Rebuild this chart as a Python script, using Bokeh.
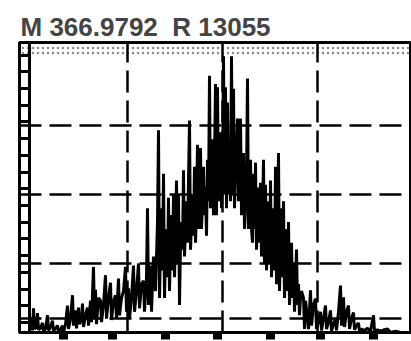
from bokeh.plotting import figure
from bokeh.models import Range1d, FixedTicker, Span, BoxAnnotation, CustomJSTickFormatter
from bokeh.embed import file_html
from bokeh.resources import INLINE
import numpy as np

# ---- data (channel, intensity) ----
channel = [30, 31, 32, 33, 34, 36, 37, 38, 40, 42, 43, 45, 47, 48, 50, 52, 53, 55, 57, 58,
           60, 62, 63, 65, 67, 68, 70, 72, 73, 75, 76, 78, 79, 81, 82, 83, 85, 87, 88, 90,
           91, 93, 94, 95, 96, 98, 100, 101, 103, 105, 106, 108, 110, 111, 113, 115, 116, 118, 119, 121,
           123, 125, 126, 128, 129, 131, 133, 134, 136, 138, 139, 141, 143, 144, 146, 147, 148, 150, 151, 153,
           155, 157, 158, 159, 160, 161, 162, 163, 164, 165, 166, 167, 168, 169, 170, 171, 172, 173, 174, 175,
           176, 177, 178, 179, 180, 181, 182, 183, 184, 185, 186, 187, 188, 189, 190, 191, 192, 193, 194, 195,
           196, 197, 198, 199, 200, 201, 202, 203, 204, 205, 206, 207, 208, 209, 210, 211, 212, 213, 214, 215,
           216, 217, 218, 219, 220, 221, 222, 223, 224, 225, 226, 227, 228, 229, 230, 231, 232, 233, 234, 235,
           236, 237, 238, 239, 240, 241, 242, 243, 244, 245, 246, 247, 248, 249, 250, 251, 252, 253, 254, 255,
           256, 257, 258, 259, 260, 261, 262, 263, 264, 265, 266, 267, 268, 269, 270, 271, 272, 273, 274, 275,
           276, 277, 278, 279, 280, 281, 282, 283, 284, 285, 286, 287, 288, 289, 290, 291, 292, 293, 294, 295,
           296, 297, 298, 299, 300, 301, 303, 304, 305,
           307, 308, 310, 311, 313, 315, 316, 318, 320, 321, 323, 325, 326, 328, 330, 331, 333, 335, 336, 338,
           340, 341, 343, 344, 346, 348, 349, 351, 353, 354, 356, 358, 359, 361, 364, 367, 370, 373, 374, 377,
           380, 384, 387, 390, 395, 400, 411]
intensity = [0.05, 0.20, 0.03, 0.35, 0.05, 0.08, 0.28, 0.04, 0.06, 0.14, 0.02, 0.05, 0.25, 0.03, 0.08, 0.17, 0.02, 0.06, 0.10, 0.01,
             0.04, 0.10, 0.00, 0.12, 0.39, 0.05, 0.20, 0.54, 0.10, 0.32, 0.06, 0.36, 0.12, 0.20, 0.42, 0.08, 0.25, 0.36, 0.10, 0.46,
             0.15, 0.95, 0.20, 0.62, 0.12, 0.50, 0.46, 0.15, 0.40, 0.83, 0.20, 0.50, 0.72, 0.18, 0.45, 0.54, 0.20, 0.78, 0.25, 0.50,
             0.60, 0.95, 0.30, 0.64, 0.20, 0.50, 0.97, 0.30, 0.60, 1.00, 0.35, 0.70, 0.75, 0.30, 0.80, 1.80, 0.40, 0.97, 0.30, 1.10,
             0.60, 1.60, 2.93, 0.50, 1.20, 1.80, 0.90, 2.30, 0.50, 1.10, 1.50, 0.80, 1.95, 0.60, 1.30, 1.70, 0.90, 2.00, 0.80, 1.40,
             2.20, 1.00, 2.00, 0.40, 1.30, 1.60, 1.20, 2.35, 1.10, 1.50, 1.90, 1.30, 2.20, 3.07, 1.20, 1.60, 2.00, 1.40, 2.40, 1.30,
             1.80, 2.72, 1.50, 2.00, 2.67, 1.50, 1.90, 2.40, 1.70, 2.10, 1.40, 2.50, 1.90, 3.72, 1.80, 2.30, 2.80, 1.70, 2.50, 3.60,
             1.70, 3.55, 1.90, 2.40, 2.90, 1.80, 2.20, 4.00, 2.00, 3.55, 1.80, 3.33, 2.00, 2.60, 1.90, 4.00, 2.00, 3.53, 1.80, 2.30,
             2.70, 3.10, 1.90, 2.40, 3.10, 1.70, 2.00, 2.60, 1.50, 1.80, 2.20, 3.68, 1.50, 1.90, 2.50, 1.50, 1.30, 2.30, 1.50, 2.46,
             1.20, 1.60, 2.10, 1.30, 2.17, 1.10, 1.70, 2.50, 1.00, 2.14, 0.90, 1.40, 1.90, 1.00, 2.20, 0.80, 1.30, 1.80, 0.90, 2.40,
             0.70, 1.50, 2.60, 0.60, 1.20, 1.80, 0.80, 1.90, 0.50, 1.10, 1.50, 0.60, 1.60, 0.40, 0.90, 1.30, 0.50, 1.00, 0.30, 0.70,
             1.20, 0.40, 0.70, 0.25, 0.50, 0.60, 0.50, 0.05, 0.46,
             0.20, 0.05, 0.61, 0.10, 0.40, 0.49, 0.05, 0.15, 0.30, 0.03, 0.20, 0.39, 0.05, 0.15, 0.32, 0.02, 0.12, 0.20, 0.03, 0.30,
             0.68, 0.10, 0.51, 0.08, 0.30, 0.39, 0.05, 0.20, 0.29, 0.04, 0.10, 0.14, 0.02, 0.05, 0.03, 0.06, 0.02, 0.25, 0.02, 0.04,
             0.02, 0.04, 0.05, 0.00, 0.02, 0.00, 0.00]

title_text = "M 366.9792\u00a0 R 13055"
grid_x = [127, 222, 317]
grid_y = [0.2, 1, 2, 3]
bottom_ticks = [63, 112, 165, 217, 270, 320, 373]

p = figure(width=411, height=341, output_backend="svg", toolbar_location=None,
           x_range=Range1d(19, 411), y_range=Range1d(0, 4.2),
           min_border_left=19, min_border_right=0, min_border_top=42, min_border_bottom=9,
           background_fill_color="white", border_fill_color="white")

p.outline_line_color = "black"
p.outline_line_width = 3

blank = CustomJSTickFormatter(code="return ''")

# ladder-style left axis
rungs = list(np.arange(0.145, 4.2, 0.242))
ax = p.yaxis[0]
ax.ticker = FixedTicker(ticks=rungs, minor_ticks=[])
ax.formatter = blank
ax.major_tick_in = 10
ax.major_tick_out = 0
ax.major_tick_line_width = 3
ax.major_tick_line_color = "black"
ax.axis_line_width = 3
ax.axis_line_color = "black"
ax.major_label_standoff = 0
ax.minor_tick_line_color = None
p.add_layout(Span(location=29, dimension="height", line_color="black", line_width=3))

# bottom axis with blob ticks
bx = p.xaxis[0]
bx.ticker = FixedTicker(ticks=bottom_ticks, minor_ticks=[])
bx.formatter = blank
bx.major_tick_in = 0
bx.major_tick_out = 7
bx.major_tick_line_width = 9
bx.major_tick_line_color = "black"
bx.axis_line_width = 3
bx.axis_line_color = "black"
bx.major_label_standoff = 0
bx.minor_tick_line_color = None

# dashed grid
p.xgrid.ticker = FixedTicker(ticks=grid_x)
p.ygrid.ticker = FixedTicker(ticks=grid_y)
for g in (p.xgrid[0], p.ygrid[0]):
    g.grid_line_color = "black"
    g.grid_line_width = 2.5
    g.grid_line_dash = "22 8"

# stippled top band
p.add_layout(BoxAnnotation(bottom=4.01, fill_color=None, line_color=None,
                           hatch_pattern=".", hatch_color="black", hatch_scale=5,
                           hatch_weight=1, hatch_alpha=0.45))

p.line(channel, intensity, line_color="black", line_width=3)

p.title.text = title_text
p.title.text_font = "Liberation Sans"
p.title.text_font_style = "bold"
p.title.text_font_size = "26px"
p.title.align = "left"
p.title.offset = 1
p.title.standoff = 2

open("out.html", "w").write(file_html(p, INLINE))
